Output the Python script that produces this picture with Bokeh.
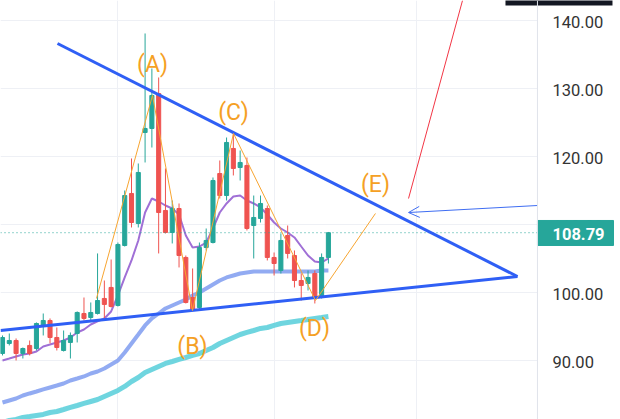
from bokeh.plotting import figure
from bokeh.models import Range1d, FixedTicker, Grid, Span, Arrow, OpenHead, ColumnDataSource
from bokeh.core.properties import value
from bokeh.embed import file_html
from bokeh.resources import INLINE

# ---- candle data ----
opens = [91.03, 92.50, 92.94, 91.03, 92.21, 91.76, 95.15, 95.88, 93.38, 91.47,
         92.65, 93.97, 96.91, 96.32, 96.91, 99.12, 100.74, 98.09, 106.91, 114.56,
         110.15, 123.53, 124.12, 129.26, 112.06, 108.82, 112.35, 105.15, 99.26, 97.79,
         106.62, 107.35, 117.50, 114.26, 121.18, 118.38, 118.68, 109.85, 110.88, 112.35,
         105.15, 103.24, 108.38, 105.44, 101.76, 101.32, 102.79, 99.26, 105.15]
highs = [93.68, 93.97, 93.24, 91.91, 92.94, 95.59, 96.91, 96.18, 94.85, 94.41,
         94.12, 97.21, 99.26, 98.53, 105.74, 101.76, 104.85, 107.35, 115.00, 119.71,
         118.97, 138.09, 132.94, 131.62, 118.24, 113.53, 113.09, 105.44, 103.53, 107.35,
         109.41, 116.91, 119.41, 122.79, 123.53, 120.88, 119.85, 114.26, 114.26, 112.79,
         105.88, 108.68, 109.85, 106.18, 102.79, 103.24, 103.24, 105.74, 108.90]
lows = [90.74, 92.21, 90.00, 90.29, 90.74, 91.47, 93.68, 92.50, 91.47, 91.32,
        90.29, 92.65, 95.88, 95.88, 96.76, 96.18, 97.79, 97.94, 106.76, 109.56,
        109.56, 119.12, 121.32, 105.74, 108.68, 107.21, 103.68, 98.38, 97.21, 97.50,
        106.18, 107.21, 113.82, 113.53, 117.21, 116.47, 109.12, 105.00, 110.29, 104.71,
        102.50, 102.79, 105.00, 100.74, 98.82, 100.29, 98.38, 99.12, 104.26]
closes = [93.38, 92.94, 91.03, 91.76, 91.03, 95.44, 95.88, 93.38, 91.91, 92.94,
          93.68, 97.06, 96.18, 97.06, 98.82, 98.24, 97.94, 107.06, 114.26, 110.29,
          117.65, 124.12, 128.97, 111.76, 108.82, 112.35, 105.44, 98.53, 97.50, 106.62,
          107.65, 116.47, 114.26, 122.06, 118.24, 119.12, 109.41, 111.03, 113.09, 105.15,
          104.26, 107.65, 105.74, 101.76, 101.03, 102.21, 99.26, 105.15, 108.79]

# ---- moving averages ----
ma_fast = [90.00, 90.29, 90.59, 90.88, 91.03, 91.32, 92.06, 92.35, 92.65, 92.94,
           93.38, 94.12, 94.56, 95.29, 95.74, 96.18, 97.21, 99.56, 102.21, 104.71,
           107.65, 111.76, 113.82, 113.38, 112.79, 112.35, 111.47, 108.38, 106.62, 106.76,
           107.35, 109.41, 111.76, 113.09, 114.12, 114.26, 113.53, 113.09, 112.50, 111.47,
           110.29, 109.41, 108.82, 108.09, 106.76, 105.44, 104.56, 104.41, 105.00]
ma_mid = [83.82, 84.12, 84.41, 84.85, 85.15, 85.44, 85.74, 86.03, 86.32, 86.62,
          87.06, 87.35, 87.65, 88.09, 88.38, 88.82, 89.41, 90.00, 91.18, 92.50,
          93.82, 95.15, 96.18, 96.91, 97.65, 98.09, 98.53, 98.97, 99.56, 100.00,
          100.59, 101.18, 101.76, 102.21, 102.50, 102.79, 102.94, 103.09, 103.09, 103.09,
          103.09, 103.09, 103.09, 103.09, 103.09, 103.09, 103.09, 103.24, 103.24]
ma_slow = [80.88, 81.18, 81.32, 81.62, 81.76, 81.91, 82.06, 82.35, 82.50, 82.79,
           83.09, 83.38, 83.68, 83.97, 84.26, 84.71, 85.15, 85.59, 86.18, 86.91,
           87.50, 88.24, 88.68, 89.12, 89.56, 89.85, 90.15, 90.44, 90.74, 91.03,
           91.47, 91.91, 92.50, 92.94, 93.38, 93.82, 94.12, 94.41, 94.71, 94.85,
           95.15, 95.44, 95.59, 95.74, 95.88, 96.03, 96.18, 96.32, 96.47]

# ---- drawings ----
upper_x = [8.1, 75.85]
upper_y = [136.62, 102.35]
lower_x = [-0.29, 75.85]
lower_y = [94.41, 102.35]
wave_x = [13.84, 22.09, 27.98, 34.02, 46.10, 54.93]
wave_y = [99.12, 128.97, 97.35, 123.38, 98.82, 111.62]
wave_labels = ["(A)", "(B)", "(C)", "(D)", "(E)"]
wave_label_x = [22.09, 27.98, 34.02, 45.95, 54.93]
wave_label_y = [133.53, 92.06, 126.47, 94.71, 115.88]
red_x = [59.8, 67.75]
red_y = [113.82, 142.94]
arrow_x = [78.79, 59.8]
arrow_y = [112.79, 111.76]
last_price = 108.79
price_ticks = [90, 100, 110, 120, 130, 140]
price_tick_labels = ["90.00", "100.00", "110.00", "120.00", "130.00", "140.00"]
time_grid = [16.94, 40.06, 60.97]

# ---- layout constants (price scale on the right) ----
X0, X1 = -0.295, 91.02
Y0, Y1 = 81.32, 142.94
AXIS_X = 78.79
LABEL_X = 81.0
TAG_RIGHT = 89.99
TAG_TOP, TAG_BOTTOM = 110.59, 106.91
BTN_LEFT, BTN_RIGHT, BTN_BOTTOM = 74.08, 89.84, 142.2

UP = "#26a69a"
DOWN = "#ef5350"
GRID = "#eef0f5"

idx = list(range(len(opens)))
colors = [UP if c >= o else DOWN for o, c in zip(opens, closes)]
src = ColumnDataSource(dict(
    x=idx, o=opens, h=highs, l=lows, c=closes,
    top=[max(o, c) for o, c in zip(opens, closes)],
    bot=[min(o, c) for o, c in zip(opens, closes)],
    color=colors))

p = figure(width=620, height=419, output_backend="svg", toolbar_location=None,
           x_range=Range1d(X0, X1), y_range=Range1d(Y0, Y1),
           x_axis_location=None, y_axis_location=None, min_border=0)
p.outline_line_color = None
p.background_fill_color = "white"
p.xgrid.visible = False
p.ygrid.visible = False
p.add_layout(Grid(dimension=0, ticker=FixedTicker(ticks=time_grid), grid_line_color=GRID))
p.add_layout(Grid(dimension=1, ticker=FixedTicker(ticks=price_ticks), grid_line_color=GRID))

# moving averages
p.line(idx, ma_slow, line_width=5, color="#5fd0dc", alpha=0.9)
p.line(idx, ma_mid, line_width=4, color="#7f9cf0", alpha=0.85)
p.line(idx, ma_fast, line_width=2, color="#a070d6")

# candles
p.segment(x0="x", y0="l", x1="x", y1="h", color="color", line_width=1, source=src)
p.vbar(x="x", width=0.6, top="top", bottom="bot", fill_color="color",
       line_color="color", source=src)

# last-price dotted line
p.line([X0, AXIS_X], [last_price, last_price], line_color=UP, line_width=1,
       line_dash="1 3")

# triangle
p.line(upper_x, upper_y, line_width=3, color="#2f5ff5")
p.line(lower_x, lower_y, line_width=3, color="#2f5ff5")

# wave
p.line(wave_x, wave_y, line_width=1, color="#f7a531")
p.text(x=wave_label_x, y=wave_label_y, text=wave_labels, text_align="center",
       text_baseline="middle", text_color="#f5a024", text_font=value("Roboto"),
       text_font_size="23px")

# red line and arrow
p.line(red_x, red_y, line_width=1, color="#f23645")
p.add_layout(Arrow(end=OpenHead(size=11, line_color="#3f6df2", line_width=1),
                   x_start=arrow_x[0], y_start=arrow_y[0],
                   x_end=arrow_x[1], y_end=arrow_y[1],
                   line_color="#3f6df2", line_width=1))

# price scale
p.quad(left=[AXIS_X], right=[X1 + 1], top=[Y1 + 1], bottom=[Y0 - 1],
       fill_color="white", line_color=None)
p.add_layout(Span(location=AXIS_X, dimension="height", line_color="#e0e3eb", line_width=1))
p.text(x=[LABEL_X] * len(price_ticks), y=price_ticks, text=price_tick_labels,
       text_align="left", text_baseline="middle", y_offset=2,
       text_color="#333333", text_font=value("Roboto"), text_font_size="16.5px")

# last price tag
p.quad(left=[AXIS_X], right=[TAG_RIGHT], top=[TAG_TOP], bottom=[TAG_BOTTOM],
       fill_color=UP, line_color=UP)
p.text(x=[LABEL_X], y=[last_price], text=[f"{last_price:.2f}"], text_align="left",
       text_baseline="middle", y_offset=1, text_color="white",
       text_font=value("Roboto"), text_font_size="16.5px", text_font_style="bold")

# dark toolbar button edge at top right
p.quad(left=[BTN_LEFT], right=[BTN_RIGHT], top=[Y1 + 1], bottom=[BTN_BOTTOM],
       fill_color="#131722", line_color=None)

open("out.html", "w").write(file_html(p, INLINE))
